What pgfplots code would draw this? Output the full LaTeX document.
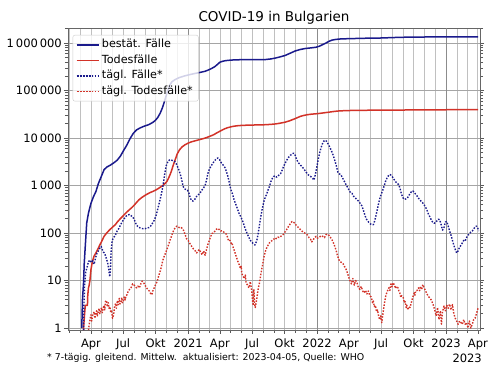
\documentclass[border=0pt]{standalone}
\usepackage{fontspec}
\setmainfont{DejaVu Sans}
\usepackage{pgfplots}
\pgfplotsset{compat=1.18}
\definecolor{cblue}{RGB}{26,26,140}
\definecolor{cred}{RGB}{210,50,40}
\definecolor{gridgray}{RGB}{192,192,192}
\definecolor{hgray}{RGB}{165,165,165}
\begin{document}
\begin{tikzpicture}
\path[use as bounding box] (-68bp,-45bp) rectangle (432bp,330bp);
\begin{axis}[
  name=ax,
  scale only axis, width=412bp, height=302bp,
  ymode=log, xmin=26, xmax=1192, ymin=0.908, ymax=2.07e6,
  tick align=outside, xtick pos=left, ytick pos=both,
  major tick length=4bp, minor tick length=3bp,
  tick style={color=black!65, line width=0.6bp},
  axis line style={draw=black!60, line width=0.8bp},
  xtick={91,182,274,456,547,639,821,912,1004,1186},
  xticklabels={Apr,Jul,Okt,Apr,Jul,Okt,Apr,Jul,Okt,Apr},
  minor xtick={31,60,121,152,213,244,305,335,397,425,486,517,578,609,670,700,762,790,851,882,943,974,1035,1065,1127,1155},
  extra x ticks={366,731,1096},
  extra x tick labels={2021,2022,2023},
  extra x tick style={major x grid style={draw=black!45, line width=0.9bp}},
  ytick={1,10,100,1000,10000,100000,1000000},
  yticklabels={1,10,100,1\,000,10\,000,100\,000,1\,000\,000},
  minor ytick={2,3,4,5,6,7,8,9,20,30,40,50,60,70,80,90,200,300,400,500,600,700,800,900,2000,3000,4000,5000,6000,7000,8000,9000,20000,30000,40000,50000,60000,70000,80000,90000,200000,300000,400000,500000,600000,700000,800000,900000,2000000},
  xmajorgrids, xminorgrids, ymajorgrids,
  major x grid style={draw=gridgray, line width=0.8bp},
  minor x grid style={draw=gridgray, line width=0.8bp},
  major y grid style={draw=hgray, line width=0.8bp},
  tick label style={font=\fontsize{11.5bp}{13bp}\selectfont},
  xticklabel style={text height=8.7bp, text depth=2.5bp, yshift=-1bp},
  yticklabel style={inner xsep=2bp},
  legend style={at={(0.0114,0.977)}, anchor=north west, draw=black!20, fill=white, fill opacity=0.8, text opacity=1, draw opacity=1,
    font=\fontsize{11.2bp}{13bp}\selectfont, rounded corners=2bp, inner xsep=3bp, inner ysep=2bp,
    nodes={text height=8bp, text depth=2.5bp, inner ysep=2.5bp, inner xsep=2.5bp}},
  legend cell align=left,
  legend image code/.code={\path (0bp,0bp) -- (22bp,0bp); \draw[#1, line width=1.7bp] (1bp,0bp) -- (16bp,0bp);},
  every axis plot/.append style={line join=round},
]
% cumulative cases
\addplot[cblue, line width=1.5bp] coordinates {
(65,1) (67,4) (70,9) (72,23) (74,41) (77,94) (79,163) (84,264) (88,346) (91,422) (98,580) (105,747) (112,1100) (121,1600) (128,2150) (136,2450) (145,2660) (155,2980) (165,3400) (174,4120) (183,5400) (193,7200) (202,9800) (211,12600) (220,14800) (230,16300) (242,17800) (254,19000) (266,21300) (273,23400) (280,27000) (287,33500) (292,41000) (296,50000) (301,66000) (306,88000) (311,112000) (315,134000) (320,152000) (329,170000) (340,186000) (353,200000) (366,212000) (381,225000) (397,238000) (414,254000) (423,270000) (432,290000) (442,320000) (450,360000) (456,395000) (465,415000) (472,425000) (480,432000) (494,440000) (508,444000) (547,446000) (584,448000) (600,462000) (612,480000) (626,510000) (640,545000) (655,610000) (669,680000) (683,730000) (697,765000) (714,790000) (728,815000) (738,860000) (746,920000) (754,980000) (764,1080000) (773,1150000) (784,1190000) (796,1215000) (821,1235000) (851,1250000) (876,1265000) (912,1275000) (943,1300000) (971,1320000) (1004,1330000) (1035,1338000) (1065,1343000) (1096,1346000) (1127,1349000) (1155,1351000) (1187,1353000)
};
\addlegendentry{bestät. Fälle}
% cumulative deaths
\addplot[cred, line width=1.5bp] coordinates {
(70,0.9) (70,1) (73,2) (75,3) (81,3) (82,5) (84,7) (86,8) (88,10) (91,17) (95,25) (100,33) (105,38) (110,45) (115,54) (121,66) (128,85) (135,99) (143,115) (152,133) (160,150) (166,172) (174,200) (182,230) (190,265) (196,292) (205,335) (213,383) (220,440) (227,502) (235,560) (244,620) (251,665) (258,708) (266,750) (274,800) (281,860) (288,930) (295,1010) (302,1130) (306,1220) (310,1400) (315,1700) (319,2050) (324,2700) (330,3600) (335,4600) (342,5700) (349,6500) (357,7200) (366,7800) (373,8200) (380,8500) (390,8900) (397,9200) (404,9500) (411,9800) (418,10200) (425,10700) (432,11200) (439,11800) (447,12800) (456,13900) (463,14800) (470,15700) (478,16500) (486,17100) (493,17600) (500,17900) (508,18200) (517,18400) (531,18600) (547,18750) (562,18850) (578,18950) (592,19200) (609,19600) (623,20300) (639,21400) (653,23000) (661,24300) (670,25800) (677,27200) (684,28600) (692,29700) (700,30600) (707,31200) (714,31700) (722,32100) (731,32500) (745,33500) (762,34800) (776,36000) (790,37000) (804,37500) (821,37900) (836,38100) (851,38300) (882,38450) (912,38550) (943,38700) (974,38850) (1004,39000) (1035,39150) (1065,39250) (1096,39350) (1127,39430) (1155,39480) (1187,39530)
};
\addlegendentry{Todesfälle}
% daily cases
\addplot[cblue, line width=1.4bp, dash pattern=on 1.5bp off 1.5bp] coordinates {
(70,0.9) (71,3) (73,8) (76,15) (80,19) (84,25) (88,27) (92,24) (96,26) (100,22) (104,30) (108,38) (112,42) (116,48) (120,52) (123,45) (126,40) (130,37) (134,30) (138,24) (141,18) (144,12) (146,16) (148,40) (151,70) (155,80) (160,90) (165,110) (170,125) (175,150) (180,175) (185,200) (190,225) (195,240) (200,245) (205,230) (210,215) (215,180) (220,145) (225,135) (230,128) (235,125) (240,122) (245,124) (250,128) (255,130) (260,140) (265,160) (270,185) (275,230) (280,320) (285,450) (290,650) (295,1000) (300,1800) (304,2600) (308,3100) (312,3400) (316,3500) (320,3400) (324,3300) (328,3200) (332,2900) (336,2500) (340,2100) (344,1700) (348,1300) (352,950) (356,850) (360,820) (364,800) (368,700) (372,550) (376,480) (380,470) (384,500) (388,560) (392,620) (396,650) (400,700) (405,800) (410,900) (414,1000) (418,1300) (422,1800) (426,2200) (430,2500) (434,2800) (438,3100) (442,3400) (446,3650) (450,3800) (455,3500) (460,3000) (465,2700) (470,2400) (474,2000) (478,1600) (481,1300) (484,1000) (488,780) (492,650) (496,500) (500,420) (505,330) (510,260) (515,220) (520,180) (525,140) (530,110) (535,90) (540,75) (545,65) (550,60) (555,56) (560,68) (564,95) (568,150) (572,230) (576,330) (580,450) (584,560) (588,650) (592,800) (596,950) (600,1200) (604,1400) (608,1550) (612,1600) (616,1500) (620,1550) (624,1700) (628,1800) (632,2100) (636,2500) (640,2900) (645,3400) (650,3900) (655,4300) (660,4600) (664,4800) (668,4500) (672,3700) (676,3200) (680,2900) (684,2700) (688,2500) (692,2300) (696,2100) (700,1900) (705,1700) (710,1600) (715,1500) (719,1400) (722,1300) (726,1700) (730,2400) (734,3500) (738,4800) (742,6200) (746,7500) (750,8600) (754,9000) (758,8500) (762,7500) (766,6600) (770,5700) (774,4900) (778,4000) (782,3200) (786,2500) (790,1900) (794,1750) (798,1700) (802,1500) (806,1300) (810,1150) (814,1000) (818,900) (822,780) (826,700) (830,680) (834,600) (838,560) (843,510) (848,470) (853,420) (858,370) (862,300) (866,240) (870,200) (874,180) (878,165) (882,155) (886,150) (890,150) (894,180) (898,240) (902,330) (906,450) (910,580) (914,700) (918,850) (922,1050) (926,1300) (930,1500) (934,1650) (938,1700) (942,1600) (946,1450) (950,1300) (954,1180) (958,1100) (962,1050) (966,850) (970,650) (974,550) (978,510) (982,520) (986,540) (990,600) (994,680) (998,740) (1002,770) (1006,720) (1010,650) (1014,600) (1018,540) (1022,500) (1026,460) (1030,430) (1034,390) (1038,350) (1042,300) (1046,250) (1050,220) (1054,190) (1058,170) (1062,160) (1066,165) (1070,180) (1074,195) (1078,190) (1082,150) (1086,115) (1090,130) (1094,170) (1098,175) (1102,140) (1106,110) (1110,90) (1114,70) (1118,55) (1122,45) (1126,38) (1130,42) (1134,50) (1138,55) (1142,62) (1146,70) (1150,68) (1154,80) (1158,90) (1162,95) (1166,105) (1170,110) (1174,120) (1178,135) (1182,140) (1186,125) (1188,110)
};
\addlegendentry{tägl. Fälle*}
% daily deaths
\addplot[cred, line width=1.4bp, dash pattern=on 1.5bp off 1.5bp] coordinates {
(84,0.9) (86,1.2) (88,1.5) (91,1.9) (93,1.4) (96,1.9) (100,2.2) (102,1.6) (104,1.9) (107,2.3) (109,1.8) (111,2.1) (114,2.6) (116,2.0) (118,2.3) (121,2.7) (123,2.1) (125,2.5) (128,3.0) (130,2.4) (132,3.6) (135,3.8) (137,2.8) (140,3.4) (142,2.6) (145,2.8) (147,2.1) (149,2.4) (152,1.6) (155,1.9) (158,2.9) (161,3.3) (163,2.6) (166,3.8) (168,3.1) (171,4.2) (173,3.2) (176,3.5) (178,4.4) (180,3.4) (183,3.8) (185,4.5) (188,3.9) (190,4.8) (193,5.0) (196,5.8) (200,6.5) (205,7.2) (209,8.5) (212,8.2) (216,7.5) (220,7.0) (224,7.6) (228,7.0) (232,8.5) (236,9.7) (240,9.0) (244,8.0) (248,7.0) (252,6.5) (256,6.0) (260,5.3) (263,5.0) (266,6.0) (270,7.0) (274,8.2) (278,9.5) (282,12) (286,15) (290,19) (294,26) (298,32) (302,38) (306,45) (310,55) (314,68) (318,82) (322,100) (326,118) (330,130) (334,140) (338,135) (342,128) (346,130) (350,125) (354,110) (358,90) (362,75) (366,70) (370,62) (374,55) (378,50) (382,45) (386,42) (390,38) (394,42) (398,45) (402,38) (406,35) (410,42) (414,34) (418,45) (422,58) (426,70) (430,85) (434,98) (438,100) (442,110) (446,120) (450,125) (454,118) (458,110) (462,112) (466,106) (470,100) (474,95) (478,80) (480,68) (484,70) (488,60) (490,62) (494,48) (498,40) (502,32) (506,26) (510,22) (514,18) (516,20) (518,14) (522,12) (526,11) (528,13) (530,9) (534,8) (538,7) (542,9.5) (546,6) (548,4) (550,3) (552,6.5) (554,3.2) (556,2.7) (560,4) (564,6.5) (568,9) (572,14) (576,20) (580,30) (584,40) (588,48) (592,55) (596,62) (600,66) (604,70) (608,75) (612,72) (616,78) (620,82) (624,80) (628,85) (632,88) (636,95) (640,105) (644,115) (648,130) (652,145) (656,160) (660,175) (664,170) (668,160) (672,145) (676,135) (680,125) (684,118) (688,110) (692,105) (696,100) (700,95) (704,90) (708,80) (712,75) (716,65) (720,72) (724,80) (728,85) (732,78) (736,80) (740,85) (744,88) (748,84) (752,80) (756,92) (760,95) (764,90) (768,82) (772,75) (776,65) (780,55) (784,45) (788,35) (792,28) (796,25) (800,24) (804,23) (808,20) (812,18) (816,15) (820,12) (824,10) (828,8.5) (832,11) (836,8) (840,10) (844,9) (848,7) (852,6.5) (856,7.5) (860,6) (864,5.5) (868,6.2) (872,5.2) (876,6) (880,4.8) (884,4.5) (888,3.4) (890,3.7) (893,2.8) (896,3.0) (899,2.2) (902,2.4) (905,1.8) (908,1.5) (911,1.8) (914,1.3) (918,2.2) (922,3.5) (926,5) (930,6) (934,7) (937,6.2) (940,8.5) (943,7.4) (946,9) (950,8) (953,6.8) (955,7.5) (960,7) (963,5.8) (965,5.5) (968,4.4) (970,4.8) (975,4.3) (978,3.4) (980,3.6) (983,2.7) (985,3) (988,2.4) (990,2.8) (994,2.7) (998,3.5) (1002,4.5) (1006,5.5) (1008,4.9) (1010,6) (1014,6.2) (1018,7) (1021,6.1) (1024,7.5) (1027,6.4) (1030,8.2) (1034,7) (1038,6) (1042,5.2) (1046,4.6) (1050,4.3) (1055,3.8) (1060,3) (1064,2.4) (1068,1.8) (1072,2.7) (1076,1.5) (1080,2.3) (1083,1.2) (1086,2.2) (1090,2.9) (1094,2.3) (1098,3.0) (1102,2.6) (1106,3.2) (1110,2.4) (1114,3.1) (1118,2.0) (1122,1.6) (1126,1.4) (1130,1.2) (1134,1.4) (1138,1.3) (1142,1.2) (1146,1.5) (1150,1.2) (1154,1.3) (1158,1.0) (1162,1.4) (1166,1.0) (1170,1.2) (1174,1.5) (1178,1.6) (1182,2.0) (1187,2.7)
};
\addlegendentry{tägl. Todesfälle*\hspace{6bp}}
\end{axis}
\node[anchor=base, font=\fontsize{13.5bp}{16bp}\selectfont] at ([yshift=6bp]ax.north) {COVID-19 in Bulgarien};
\node[anchor=base east, font=\fontsize{11.5bp}{13bp}\selectfont, inner sep=0pt] at ([xshift=2bp,yshift=-32bp]ax.south east) {2023};
\node[anchor=base west, font=\fontsize{9.4bp}{10bp}\selectfont, inner sep=0pt] at ([xshift=-21bp,yshift=-30bp]ax.south west) {* 7-tägig. gleitend. Mittelw.\ \ aktualisiert: 2023-04-05, Quelle: WHO};
\end{tikzpicture}
\end{document}
